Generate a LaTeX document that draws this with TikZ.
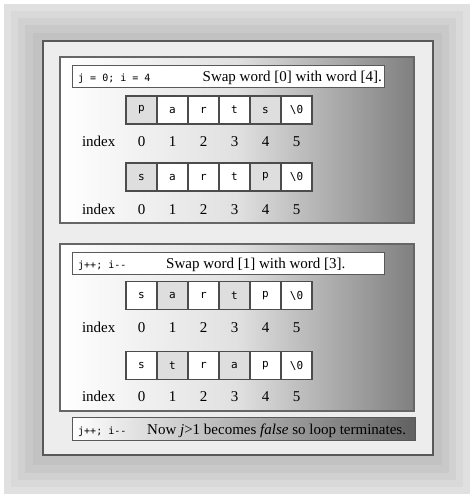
\documentclass[tikz,border=0pt]{standalone}
\usepackage{fontspec}
\setmainfont{Liberation Serif}
\setmonofont{DejaVu Sans Mono}
\usetikzlibrary{positioning}

\begin{document}
\begin{tikzpicture}[x=1pt,y=-1pt,
    cell/.style={draw=black!70, line width=1.2pt, fill=white, minimum width=31pt, minimum height=28pt, inner sep=0pt, outer sep=0pt, font=\fontsize{11}{13}\ttfamily},
    hcell/.style={cell, fill=black!13},
    idx/.style={inner sep=0pt, font=\fontsize{15}{18}\selectfont},
    panel/.style={draw=black!60, line width=1.2pt, minimum width=354pt, inner sep=0pt, left color=white, right color=black!50, middle color=black!12},
    titlebox/.style={draw=black!65, line width=1pt, fill=white, minimum width=312pt, minimum height=22pt, inner sep=0pt},
    code/.style={inner sep=0pt, font=\fontsize{10}{12}\ttfamily},
    note/.style={inner sep=0pt, font=\fontsize{15}{18}\selectfont}]

    \useasboundingbox (0,0) rectangle (475,497);
    \fill[white] (0,0) rectangle (475,497);

    % glow round the frame
    \fill[black!12] (4,4) rectangle (470,494);
    \fill[black!15] (11,11) rectangle (463,487);
    \fill[black!18] (18,18) rectangle (456,480);
    \fill[black!21] (25,25) rectangle (449,473);
    \fill[black!24] (33,33) rectangle (442,465);

    \node[draw=black!65, line width=1.2pt, fill=black!7, minimum width=390pt, minimum height=414pt] (frame) at (238,248) {};

    % first swap
    \node[panel, minimum height=166pt] (panA) at (237,140) {};
    \node[titlebox] (titA) at (228,77) {};
    \node[code, anchor=base west] (codeA) at (78,82) {j = 0; i = 4};
    \node[note, anchor=base east] (swapA) at (382,82) {Swap word [0] with word [4].};

    \node[hcell] (a0) at (141.5,110) {p};
    \node[cell, right=0pt of a0] (a1) {a};
    \node[cell, right=0pt of a1] (a2) {r};
    \node[cell, right=0pt of a2] (a3) {t};
    \node[hcell, right=0pt of a3] (a4) {s};
    \node[cell, right=0pt of a4] (a5) {\textbackslash 0};
    \node[idx, below=18pt of a0.south, anchor=center] (ia0) {0};
    \node[idx, below=18pt of a1.south, anchor=center] (ia1) {1};
    \node[idx, below=18pt of a2.south, anchor=center] (ia2) {2};
    \node[idx, below=18pt of a3.south, anchor=center] (ia3) {3};
    \node[idx, below=18pt of a4.south, anchor=center] (ia4) {4};
    \node[idx, below=18pt of a5.south, anchor=center] (ia5) {5};
    \node[idx, anchor=base east] (la) at ([xshift=-22pt]ia0.base west) {index};

    \node[hcell] (b0) at (141.5,177) {s};
    \node[cell, right=0pt of b0] (b1) {a};
    \node[cell, right=0pt of b1] (b2) {r};
    \node[cell, right=0pt of b2] (b3) {t};
    \node[hcell, right=0pt of b3] (b4) {p};
    \node[cell, right=0pt of b4] (b5) {\textbackslash 0};
    \node[idx, below=19pt of b0.south, anchor=center] (ib0) {0};
    \node[idx, below=19pt of b1.south, anchor=center] (ib1) {1};
    \node[idx, below=19pt of b2.south, anchor=center] (ib2) {2};
    \node[idx, below=19pt of b3.south, anchor=center] (ib3) {3};
    \node[idx, below=19pt of b4.south, anchor=center] (ib4) {4};
    \node[idx, below=19pt of b5.south, anchor=center] (ib5) {5};
    \node[idx, anchor=base east] (lb) at ([xshift=-22pt]ib0.base west) {index};

    % second swap
    \node[panel, minimum height=167pt] (panB) at (237,327.5) {};
    \node[titlebox] (titB) at (228,263) {};
    \node[code, anchor=base west] (codeB) at (78,268) {j++; i-{}-};
    \node[note, anchor=base west] (swapB) at (166,268) {Swap word [1] with word [3].};

    \node[cell] (c0) at (141.5,295.5) {s};
    \node[hcell, right=0pt of c0] (c1) {a};
    \node[cell, right=0pt of c1] (c2) {r};
    \node[hcell, right=0pt of c2] (c3) {t};
    \node[cell, right=0pt of c3] (c4) {p};
    \node[cell, right=0pt of c4] (c5) {\textbackslash 0};
    \node[idx, below=18.5pt of c0.south, anchor=center] (ic0) {0};
    \node[idx, below=18.5pt of c1.south, anchor=center] (ic1) {1};
    \node[idx, below=18.5pt of c2.south, anchor=center] (ic2) {2};
    \node[idx, below=18.5pt of c3.south, anchor=center] (ic3) {3};
    \node[idx, below=18.5pt of c4.south, anchor=center] (ic4) {4};
    \node[idx, below=18.5pt of c5.south, anchor=center] (ic5) {5};
    \node[idx, anchor=base east] (lc) at ([xshift=-22pt]ic0.base west) {index};

    \node[cell] (d0) at (141.5,365.5) {s};
    \node[hcell, right=0pt of d0] (d1) {t};
    \node[cell, right=0pt of d1] (d2) {r};
    \node[hcell, right=0pt of d2] (d3) {a};
    \node[cell, right=0pt of d3] (d4) {p};
    \node[cell, right=0pt of d4] (d5) {\textbackslash 0};
    \node[idx, below=17.5pt of d0.south, anchor=center] (id0) {0};
    \node[idx, below=17.5pt of d1.south, anchor=center] (id1) {1};
    \node[idx, below=17.5pt of d2.south, anchor=center] (id2) {2};
    \node[idx, below=17.5pt of d3.south, anchor=center] (id3) {3};
    \node[idx, below=17.5pt of d4.south, anchor=center] (id4) {4};
    \node[idx, below=17.5pt of d5.south, anchor=center] (id5) {5};
    \node[idx, anchor=base east] (ld) at ([xshift=-22pt]id0.base west) {index};

    % loop ends
    \node[draw=black!65, line width=1pt, minimum width=343pt, minimum height=23pt, inner sep=0pt, left color=white, right color=black!62] (last) at (243.5,428.5) {};
    \node[code, anchor=base west] (codeC) at (78,434) {j++; i-{}-};
    \node[note, anchor=base west] (stop) at (147,434) {Now \textit{j}>1 becomes \textit{false} so loop terminates.};

\end{tikzpicture}
\end{document}
